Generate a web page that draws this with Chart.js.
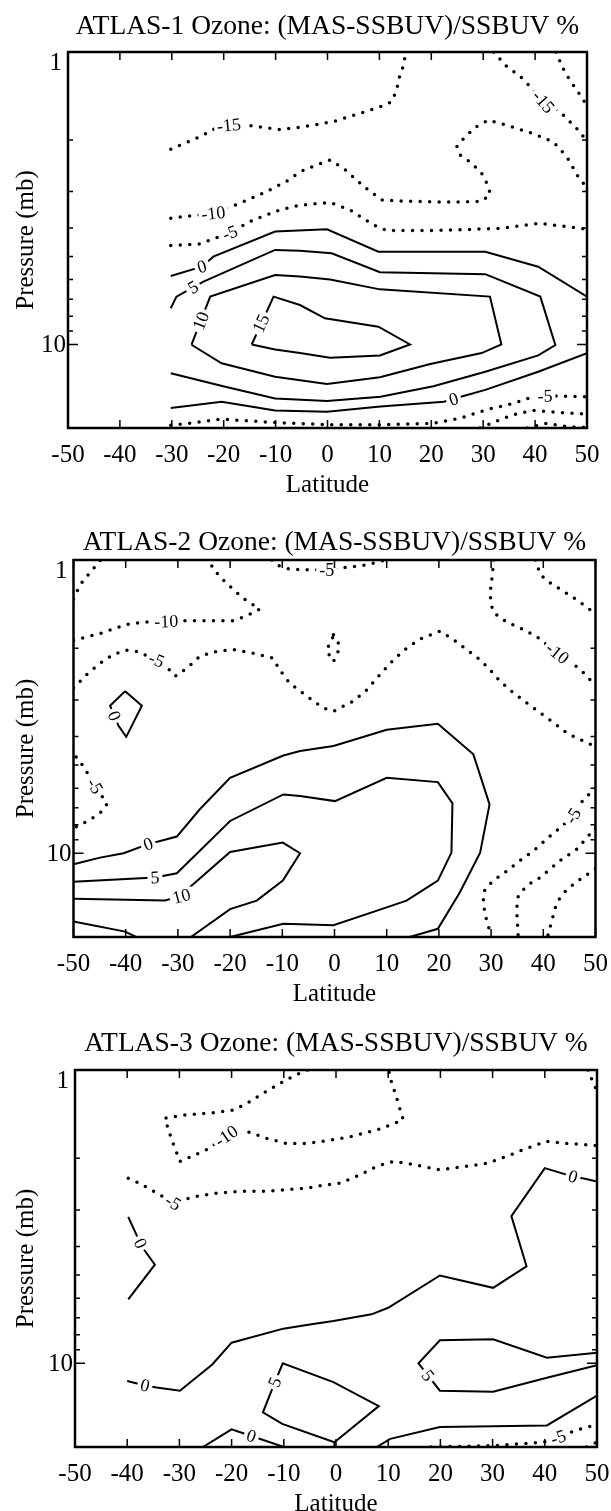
<!DOCTYPE html>
<html>
<head>
<meta charset="utf-8">
<script src="https://cdn.jsdelivr.net/npm/chart.js@4.4.1/dist/chart.umd.min.js"></script>
<style>
  html, body { margin: 0; padding: 0; background: #fff; }
  .panel { position: absolute; left: 0; width: 611px; }
  canvas { display: block; }
</style>
</head>
<body>
<div class="panel" style="top:0px"><canvas id="c1" width="611" height="505"></canvas></div>
<div class="panel" style="top:505px"><canvas id="c2" width="611" height="510"></canvas></div>
<div class="panel" style="top:1015px"><canvas id="c3" width="611" height="496"></canvas></div>
<script>
// axes
const latTicks = [-50, -40, -30, -20, -10, 0, 10, 20, 30, 40, 50];
const pressureTicks = [1, 2, 3, 4, 5, 6, 7, 8, 9, 10];
const pressureLabelled = [1, 10];
const pressureRange = [1, 19.3];

// contour lines, points are [latitude, pressure mb]
// ATLAS-1
const a1_m15_w = [[-30.2,2.15],[-24.6,1.95],[-21,1.8],[-17,1.77],[-14.3,1.79],[-9.2,1.84],[-5.3,1.81],[1.1,1.73],[6.3,1.62],[10.1,1.54],[12.4,1.48],[13.3,1.35],[13.9,1.21],[14.6,1.12],[15.1,1.0]];
const a1_m15_e = [[32,1.0],[34.5,1.12],[37.1,1.21],[39,1.31],[41.6,1.48],[44.8,1.6],[46.7,1.73],[48.6,1.87],[50,2.03]];
const a1_m20_e = [[44,1.0],[45.8,1.18],[47.5,1.31],[49.1,1.44],[50,1.53]];
const a1_m10 = [[-30.2,3.7],[-22,3.56],[-16.9,3.29],[-12.4,3.04],[-7.9,2.77],[-5.3,2.57],[-2.1,2.43],[0.5,2.34],[3.1,2.5],[5.6,2.74],[8.2,3.0],[10.6,3.21],[15.8,3.24],[23.6,3.26],[29.7,3.24],[31.4,3.06],[30.7,2.81],[29.7,2.6],[27.8,2.4],[25.6,2.25],[24.9,2.11],[26.5,1.95],[28.7,1.8],[31,1.71],[34.5,1.78],[39.6,1.9],[43.5,2.03],[46.1,2.28],[48.3,2.67],[50,2.92]];
const a1_m5_top = [[-30.2,4.59],[-24.6,4.53],[-18.8,4.15],[-14.3,3.75],[-9.2,3.47],[-5.3,3.34],[0.5,3.27],[4.4,3.47],[8.8,3.9],[11.4,4.08],[20.4,4.08],[33.2,4.01],[40.9,3.85],[50,4.04]];
const a1_0_top = [[-30.2,5.83],[-24.2,5.42],[-22,5.01],[-10.1,4.11],[-0.1,4.04],[9.8,4.82],[30.4,4.82],[40.6,5.42],[50,6.86]];
const a1_5 = [[-30.2,7.52],[-29.1,6.86],[-25.9,6.38],[-23.9,6.1],[-10.1,4.75],[-5.3,4.78],[0.8,4.88],[10.1,5.66],[30.4,5.75],[41,6.86],[43.9,10.04],[40.6,10.9],[30.4,12.4],[20.4,13.9],[10.2,15.1],[-0.1,15.6],[-10.1,15.3],[-20.1,13.9],[-30.2,12.55]];
const a1_10 = [[-26.2,10.02],[-22.6,6.86],[-10.1,5.79],[-5.3,5.86],[0.5,6.0],[10.1,6.48],[31.3,6.86],[33.5,10.0],[29.7,10.7],[19.8,11.66],[10.1,12.95],[-0.1,13.65],[-10.1,12.9],[-20.4,11.6],[-26.2,10.02]];
const a1_15 = [[-14.6,10.0],[-10.4,6.86],[-5.3,7.33],[-0.5,8.14],[9.8,8.69],[15.9,10.0],[10.1,10.9],[0.5,11.1],[-5.3,10.7],[-10.1,10.4],[-14.6,10.0]];
const a1_0_bot = [[-30.2,16.5],[-20.4,15.7],[-10.1,16.8],[-0.1,16.97],[10.2,16.3],[22.4,15.7],[26.2,15.0],[30.4,14.3],[40.6,12.4],[50,10.7]];
const a1_m5_bot = [[-30.2,18.9],[-24.6,18.4],[-20.4,18.0],[-10.1,18.5],[-0.1,18.8],[10.2,18.8],[20.4,18.6],[25.5,17.9],[30.7,16.7],[35.8,15.9],[39.5,15.1],[44,15.0],[50,15.1]];
const a1_m10_bot = [[29.4,19.3],[33.2,18.1],[35.8,17.4],[39.7,16.8],[44.8,17.1],[50,17.3]];
const a1_m15_bot = [[38.5,19.3],[42.3,18.6],[46,19.1],[50,19.2]];
const atlas1Lines = [
  { level: -15, pts: a1_m15_w }, { level: -15, pts: a1_m15_e }, { level: -20, pts: a1_m20_e },
  { level: -10, pts: a1_m10 }, { level: -5, pts: a1_m5_top }, { level: 0, pts: a1_0_top },
  { level: 5, pts: a1_5 }, { level: 10, pts: a1_10 }, { level: 15, pts: a1_15 },
  { level: 0, pts: a1_0_bot }, { level: -5, pts: a1_m5_bot }, { level: -10, pts: a1_m10_bot },
  { level: -15, pts: a1_m15_bot }
];
const atlas1Labels = [[-19,1.78,'-15'],[41.6,1.48,'-15'],[-22,3.56,'-10'],[-18.8,4.15,'-5'],[-24.2,5.42,'0'],[-25.9,6.38,'5'],[-24.4,8.3,'10'],[-12.8,8.47,'15'],[24.3,15.4,'0'],[41.9,15.0,'-5']];

// ATLAS-2
const a2_m15_nw = [[-50,1.36],[-48.8,1.22],[-47.5,1.14],[-46.2,1.07],[-44.8,1.0]];
const a2_m10_w = [[-50,1.88],[-44.9,1.78],[-39.8,1.66],[-36.6,1.63],[-32.2,1.62],[-27.7,1.61],[-19.4,1.61],[-16.8,1.55],[-14.3,1.47],[-15.6,1.42],[-17.5,1.35],[-19.4,1.26],[-21.3,1.17],[-22.9,1.09],[-24.2,1.0]];
const a2_m5_top = [[-12,1.0],[-11,1.04],[-9,1.07],[-6.5,1.08],[-1.5,1.08],[2.3,1.06],[6,1.04],[9,1.01],[9.5,1.0]];
const a2_m5_loop = [[-0.2,1.8],[0.6,1.88],[1.0,2.0],[0.4,2.1],[-0.2,2.22],[-0.9,2.13],[-1.5,2.01],[-0.6,1.9],[-0.2,1.8]];
const a2_m5_w = [[-50,2.73],[-47.5,2.46],[-44.9,2.25],[-42.4,2.1],[-39.8,2.03],[-37.9,2.05],[-34.1,2.19],[-32.2,2.31],[-30.5,2.49],[-28.3,2.34],[-25.8,2.13],[-22.6,2.05],[-19.4,2.02],[-15.6,2.08],[-11.8,2.16],[-10.5,2.37],[-8.6,2.63],[-6.6,2.8],[-4,3.03],[-2.1,3.2],[-0.2,3.28],[1.7,3.15],[3.6,3.03],[6.2,2.77],[8.7,2.46],[11.3,2.19],[13.8,2.0],[16.4,1.86],[20.2,1.75],[22.8,1.87],[25.3,2.02],[27.9,2.19],[29.8,2.37],[31.7,2.59],[34.3,2.84],[36.8,3.07],[39.4,3.32],[42,3.59],[44.5,3.89],[47,4.09],[50,4.33]];
const a2_m10_e = [[30.5,1.0],[30.2,1.14],[29.9,1.26],[29.9,1.39],[30.4,1.5],[31.8,1.58],[33.7,1.65],[36.3,1.73],[38.8,1.83],[42.7,2.08],[45.2,2.22],[47.8,2.43],[50,2.68]];
const a2_m15_ne = [[38.5,1.0],[39.4,1.12],[41.4,1.2],[43.9,1.28],[46.5,1.37],[49,1.48],[50,1.52]];
const a2_0_loop = [[-40.1,2.8],[-36.9,3.14],[-39.9,4.01],[-41.4,3.67],[-43,3.14],[-40.1,2.8]];
const a2_m5_sw = [[-49.5,4.7],[-48.5,4.95],[-46,5.8],[-43.6,6.8],[-44.9,7.3],[-47.5,7.8],[-50,8.2]];
const a2_0 = [[-50,10.9],[-44.9,10.35],[-40.4,10.0],[-35.7,9.31],[-33.4,9.08],[-30.2,8.77],[-25.8,7.08],[-20,5.53],[-9.8,4.64],[-6.6,4.48],[-0.2,4.31],[10,3.79],[19.8,3.62],[26.6,4.6],[29.7,6.81],[27.9,9.95],[24,13.6],[19.8,18.1],[14.4,19.3]];
const a2_5 = [[-50,12.5],[-34.4,12.1],[-30.2,11.7],[-20,7.76],[-9.8,6.3],[-6.6,6.38],[0.1,6.64],[10,5.53],[19.8,5.72],[22.6,6.76],[22.4,9.95],[19.8,12.4],[13.8,14.5],[10,15.3],[-0.2,17.6],[-9.8,17.4],[-20,19.3]];
const a2_10 = [[-50,14.3],[-32.5,14.5],[-29.3,14.0],[-27.4,12.9],[-20,9.9],[-9.9,9.2],[-6.6,10.0],[-9.9,12.4],[-14.9,14.5],[-20,15.5],[-27.5,19.3]];
const a2_lo = [[-50,17.1],[-40.1,18.5],[-38,19.3]];
const a2_m5_se = [[50,6.0],[47.7,6.55],[45.7,7.46],[43.2,8.18],[40.6,8.96],[38.1,9.82],[35.5,10.6],[33,11.5],[30.4,12.4],[28.8,13.3],[28.5,14.5],[28.8,16.1],[29.5,17.7],[29.9,19.3]];
const a2_m10_se = [[50,8.2],[46.4,9.69],[43.2,10.6],[39.4,12.1],[36.8,12.9],[35.2,14.0],[34.9,15.5],[35.2,19.3]];
const a2_m15_se = [[50,11.3],[47,12.3],[44.5,13.3],[42.6,14.7],[41.9,16.3],[40.8,19.3]];
const atlas2Lines = [
  { level: -15, pts: a2_m15_nw }, { level: -10, pts: a2_m10_w }, { level: -5, pts: a2_m5_top },
  { level: -5, pts: a2_m5_loop }, { level: -5, pts: a2_m5_w }, { level: -10, pts: a2_m10_e },
  { level: -15, pts: a2_m15_ne }, { level: 0, pts: a2_0_loop }, { level: -5, pts: a2_m5_sw },
  { level: 0, pts: a2_0 }, { level: 5, pts: a2_5 }, { level: 10, pts: a2_10 }, { level: 15, pts: a2_lo },
  { level: -5, pts: a2_m5_se }, { level: -10, pts: a2_m10_se }, { level: -15, pts: a2_m15_se }
];
const atlas2Labels = [[-32.2,1.62,'-10'],[-1.5,1.08,'-5'],[-34.1,2.19,'-5'],[42.7,2.08,'-10'],[-42.2,3.4,'0'],[-45.9,5.9,'-5'],[-35.7,9.31,'0'],[-34.4,12.1,'5'],[-29.3,14.0,'10'],[45.7,7.46,'-5']];

// ATLAS-3
const a3_m10 = [[-5.5,1.0],[-8.2,1.05],[-10.7,1.11],[-13.9,1.2],[-17.1,1.3],[-19.7,1.37],[-23.5,1.4],[-28.6,1.42],[-32.8,1.46],[-32.1,1.6],[-31.2,1.78],[-29.9,2.05],[-27.6,1.97],[-24.8,1.87],[-21,1.68],[-17.1,1.62],[-13.3,1.71],[-9.5,1.78],[-5.6,1.78],[-2.4,1.75],[2.7,1.69],[7.8,1.6],[10.4,1.54],[12.9,1.48],[12.3,1.37],[11.7,1.26],[11,1.15],[10.4,1.07],[10.1,1.0]];
const a3_m10_ne = [[48.3,1.0],[49.2,1.1],[50,1.18]];
const a3_m5 = [[-39.8,2.34],[-37.5,2.44],[-34,2.65],[-31.2,2.83],[-27.3,2.71],[-22.9,2.63],[-17.8,2.59],[-13.3,2.59],[-9.5,2.56],[-5.6,2.53],[-3,2.48],[0.8,2.43],[4.6,2.28],[7.8,2.13],[11,2.05],[14.8,2.1],[19.9,2.19],[25,2.13],[28.9,2.08],[32.7,1.97],[36.5,1.85],[40.4,1.75],[44.2,1.78],[48,1.8],[50,1.81]];
const a3_0_w = [[-39.8,3.17],[-37.2,4.0],[-34.7,4.61],[-39.8,6.06]];
const a3_0 = [[-40,11.5],[-36.6,11.9],[-34.4,12.1],[-29.9,12.4],[-23.7,10.1],[-20,8.51],[-10.1,7.62],[-4.7,7.36],[-0.5,7.18],[6.8,6.81],[10,6.47],[19.9,5.02],[30.1,5.53],[36.5,4.67],[33.6,3.15],[40,2.16],[45.4,2.31],[47.7,2.35],[50,2.4]];
const a3_5_w = [[-0.2,19.3],[-0.3,18.6],[-10.3,16.1],[-14,14.7],[-11.7,11.6],[-10.2,10.0],[-0.5,11.6],[8.2,14.0],[-0.3,18.6]];
const a3_0_sw = [[-25.5,19.3],[-20,16.8],[-16.2,17.7],[-10,19.3]];
const a3_5_e = [[50,9.2],[40.4,9.57],[30.1,8.28],[19.9,8.35],[15.8,10.0],[19.9,12.4],[30.1,12.5],[40.4,11.2],[50,10.15]];
const a3_0_e = [[7.8,19.3],[10.4,18.1],[19.9,16.5],[40.4,16.3],[50,12.9]];
const a3_m5_e = [[18.2,19.3],[30.1,19.1],[39.7,18.6],[42.6,17.9],[46.1,16.9],[50,16.2]];
const a3_m10_se = [[48,19.3],[50,18.6]];
const atlas3Lines = [
  { level: -10, pts: a3_m10 }, { level: -10, pts: a3_m10_ne }, { level: -5, pts: a3_m5 },
  { level: 0, pts: a3_0_w }, { level: 0, pts: a3_0 }, { level: 5, pts: a3_5_w },
  { level: 0, pts: a3_0_sw }, { level: 5, pts: a3_5_e }, { level: 0, pts: a3_0_e },
  { level: -5, pts: a3_m5_e }, { level: -10, pts: a3_m10_se }
];
const atlas3Labels = [[-21,1.68,'-10'],[-31.2,2.83,'-5'],[-37.5,3.9,'0'],[-36.6,11.9,'0'],[45.4,2.31,'0'],[-11.7,11.6,'5'],[17.6,11.0,'5'],[-16.2,17.7,'0'],[42.6,17.9,'-5']];

const FONT = '"Liberation Serif", "DejaVu Serif", serif';

const panels = [
  { id: 'c1', top: 0, height: 505, frame: { left: 68, right: 587, top: 52, bottom: 428 }, titleGap: 18,
    title: 'ATLAS-1 Ozone: (MAS-SSBUV)/SSBUV %', lines: atlas1Lines, labels: atlas1Labels },
  { id: 'c2', top: 505, height: 510, frame: { left: 73.5, right: 595.5, top: 560, bottom: 937 }, titleGap: 10,
    title: 'ATLAS-2 Ozone: (MAS-SSBUV)/SSBUV %', lines: atlas2Lines, labels: atlas2Labels },
  { id: 'c3', top: 1015, height: 496, frame: { left: 75, right: 597, top: 1070, bottom: 1447 }, titleGap: 19,
    title: 'ATLAS-3 Ozone: (MAS-SSBUV)/SSBUV %', lines: atlas3Lines, labels: atlas3Labels }
];

function toDataset(line) {
  const dotted = line.level < 0;
  return {
    data: line.pts.map(([lat, p]) => ({ x: lat, y: p })),
    showLine: true,
    pointRadius: 0,
    pointHoverRadius: 0,
    borderColor: '#000',
    borderWidth: dotted ? 3.5 : 2,
    borderDash: dotted ? [0, 9.5] : [],
    borderCapStyle: dotted ? 'round' : 'butt',
    tension: 0,
    fill: false
  };
}

// angle of the contour segment closest to a label
function nearestAngle(chart, px, py) {
  let best = Infinity, ang = 0;
  chart.data.datasets.forEach((ds, i) => {
    const pts = chart.getDatasetMeta(i).data;
    for (let k = 1; k < pts.length; k++) {
      const a = pts[k - 1], b = pts[k];
      const dx = b.x - a.x, dy = b.y - a.y;
      const len2 = dx * dx + dy * dy || 1;
      let t = ((px - a.x) * dx + (py - a.y) * dy) / len2;
      t = Math.max(0, Math.min(1, t));
      const d = (px - a.x - t * dx) ** 2 + (py - a.y - t * dy) ** 2;
      if (d < best) { best = d; ang = Math.atan2(dy, dx); }
    }
  });
  if (ang > Math.PI / 2) ang -= Math.PI;
  if (ang < -Math.PI / 2) ang += Math.PI;
  return ang;
}

function makeDecor(panel) {
  return {
    id: 'decor' + panel.id,
    afterDraw(chart) {
      const { ctx, chartArea: a, scales: { x, y } } = chart;
      ctx.save();

      // contour labels
      ctx.font = '18px ' + FONT;
      ctx.textAlign = 'center';
      ctx.textBaseline = 'middle';
      panel.labels.forEach(([lat, p, txt]) => {
        const px = x.getPixelForValue(lat), py = y.getPixelForValue(p);
        const ang = nearestAngle(chart, px, py);
        const w = ctx.measureText(txt).width;
        ctx.save();
        ctx.translate(px, py);
        ctx.rotate(ang);
        ctx.fillStyle = '#fff';
        ctx.fillRect(-w / 2 - 3, -7, w + 6, 14);
        ctx.fillStyle = '#000';
        ctx.fillText(txt, 0, 1);
        ctx.restore();
      });

      // frame
      ctx.strokeStyle = '#000';
      ctx.lineWidth = 2.5;
      ctx.strokeRect(a.left, a.top, a.right - a.left, a.bottom - a.top);

      // inward ticks
      ctx.lineWidth = 1.5;
      ctx.beginPath();
      latTicks.forEach(v => {
        const px = x.getPixelForValue(v);
        ctx.moveTo(px, a.bottom); ctx.lineTo(px, a.bottom - 8);
        ctx.moveTo(px, a.top); ctx.lineTo(px, a.top + 8);
      });
      pressureTicks.forEach(v => {
        const py = y.getPixelForValue(v);
        const len = pressureLabelled.includes(v) ? 10 : 5;
        ctx.moveTo(a.left, py); ctx.lineTo(a.left + len, py);
        ctx.moveTo(a.right, py); ctx.lineTo(a.right - len, py);
      });
      ctx.stroke();

      ctx.fillStyle = '#000';
      // x tick labels
      ctx.font = '25px ' + FONT;
      ctx.textAlign = 'center';
      ctx.textBaseline = 'middle';
      latTicks.forEach(v => ctx.fillText(String(v), x.getPixelForValue(v), a.bottom + 27));

      // y tick labels
      ctx.textAlign = 'right';
      pressureLabelled.forEach(v => {
        const py = y.getPixelForValue(v);
        if (v === pressureRange[0]) {
          ctx.textBaseline = 'top';
          ctx.fillText(String(v), a.left - 6, a.top - 1);
        } else {
          ctx.textBaseline = 'middle';
          ctx.fillText(String(v), a.left - 2, py + 1);
        }
      });

      // axis titles
      ctx.textAlign = 'center';
      ctx.textBaseline = 'middle';
      ctx.fillText('Latitude', (a.left + a.right) / 2, a.bottom + 57);
      ctx.save();
      ctx.translate(26, (a.top + a.bottom) / 2);
      ctx.rotate(-Math.PI / 2);
      ctx.fillText('Pressure (mb)', 0, 0);
      ctx.restore();

      // title
      ctx.font = '27.5px ' + FONT;
      ctx.textBaseline = 'alphabetic';
      ctx.fillText(panel.title, (a.left + a.right) / 2, a.top - panel.titleGap);

      ctx.restore();
    }
  };
}

panels.forEach(panel => {
  const f = panel.frame;
  new Chart(document.getElementById(panel.id), {
    type: 'scatter',
    data: { datasets: panel.lines.map(toDataset) },
    options: {
      responsive: false,
      animation: false,
      events: [],
      layout: {
        padding: {
          left: f.left,
          right: 611 - f.right,
          top: f.top - panel.top,
          bottom: panel.top + panel.height - f.bottom
        }
      },
      plugins: { legend: { display: false }, tooltip: { enabled: false } },
      scales: {
        x: { type: 'linear', min: latTicks[0], max: latTicks[latTicks.length - 1], display: false },
        y: { type: 'logarithmic', min: pressureRange[0], max: pressureRange[1], reverse: true, display: false }
      }
    },
    plugins: [makeDecor(panel)]
  });
});
</script>
</body>
</html>
